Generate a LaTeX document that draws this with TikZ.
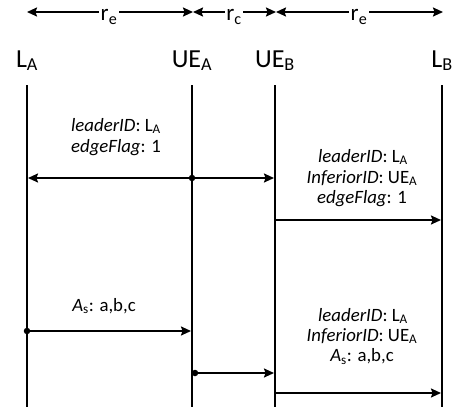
\documentclass[tikz,border=0pt]{standalone}
\usepackage{fontspec}
\setmainfont{Carlito}
\usetikzlibrary{arrows.meta}
\begin{document}
\begin{tikzpicture}[x=1pt,y=-1pt,
 life/.style={line width=2.4pt},
 tip/.style={-{Stealth[length=10pt,width=9pt,inset=1.5pt]}},
 msg/.style={line width=1.8pt,tip,shorten >=1pt},
 dotnode/.style={circle,fill=black,inner sep=0pt,minimum size=6.5pt},
 head/.style={font=\fontsize{26}{30}\selectfont,anchor=base,inner sep=0pt},
 txt/.style={font=\fontsize{18.8}{21}\selectfont,anchor=base,inner sep=0pt},
 dimline/.style={line width=1.8pt,{Stealth[length=10pt,width=9pt,inset=1.5pt]}-{Stealth[length=10pt,width=9pt,inset=1.5pt]}},
 dimlab/.style={font=\fontsize{23}{26}\selectfont,fill=white,inner sep=1.5pt,anchor=base}]
\useasboundingbox (0,0) rectangle (456,410);
% range arrows
\coordinate (r0) at (27,12);
\coordinate (r1) at (193,12);
\coordinate (r2) at (276,12);
\coordinate (r3) at (443,12);
\draw[dimline] (r0) -- (r1);
\draw[dimline] (r1) -- (r2);
\draw[dimline] (r2) -- (r3);
\node[dimlab] (re1) at (109,20.5) {r\textsubscript{e}};
\node[dimlab] (rc) at (234,20.5) {r\textsubscript{c}};
\node[dimlab] (re2) at (359,20.5) {r\textsubscript{e}};
% heads
\node[head] (LA) at (27,67) {L\textsubscript{A}};
\node[head] (UEA) at (192,67) {UE\textsubscript{A}};
\node[head] (UEB) at (275,67) {UE\textsubscript{B}};
\node[head] (LB) at (442,67) {L\textsubscript{B}};
% lifelines
\coordinate (LAt) at (27,85);   \coordinate (LAb) at (27,407);
\coordinate (UEAt) at (192,85); \coordinate (UEAb) at (192,407);
\coordinate (UEBt) at (275,85); \coordinate (UEBb) at (275,407);
\coordinate (LBt) at (442,85);  \coordinate (LBb) at (442,407);
\draw[life] (LAt) -- (LAb);
\draw[life] (UEAt) -- (UEAb);
\draw[life] (UEBt) -- (UEBb);
\draw[life] (LBt) -- (LBb);
% message 1
\node[txt] (t1a) at (116,131) {\textit{leaderID}: L\textsubscript{A}};
\node[txt] (t1b) at (116,152) {\textit{edgeFlag}: 1};
\node[dotnode] (d1) at (192,178) {};
\coordinate (m1l) at (27,178);
\coordinate (m1r) at (275,178);
\draw[msg] (d1.center) -- (m1l);
\draw[msg] (d1.center) -- (m1r);
% message 2
\node[txt] (t2a) at (363,162) {\textit{leaderID}: L\textsubscript{A}};
\node[txt] (t2b) at (362,183) {\textit{InferiorID}: UE\textsubscript{A}};
\node[txt] (t2c) at (362,203.5) {\textit{edgeFlag}: 1};
\coordinate (m2a) at (275,220);
\coordinate (m2b) at (442,220);
\draw[msg] (m2a) -- (m2b);
% message 3
\node[txt] (t3) at (104,311) {\textit{A}\textsubscript{s}: a,b,c};
\node[dotnode] (d3) at (27,331) {};
\coordinate (m3b) at (192,331);
\draw[msg] (d3.center) -- (m3b);
% message 4
\node[dotnode] (d4) at (195,373) {};
\coordinate (m4b) at (275,373);
\draw[msg] (d4.center) -- (m4b);
% message 5
\node[txt] (t5a) at (363,321) {\textit{leaderID}: L\textsubscript{A}};
\node[txt] (t5b) at (362,341) {\textit{InferiorID}: UE\textsubscript{A}};
\node[txt] (t5c) at (362,361.5) {\textit{A}\textsubscript{s}: a,b,c};
\coordinate (m5a) at (275,393);
\coordinate (m5b) at (442,393);
\draw[msg] (m5a) -- (m5b);
\end{tikzpicture}
\end{document}
